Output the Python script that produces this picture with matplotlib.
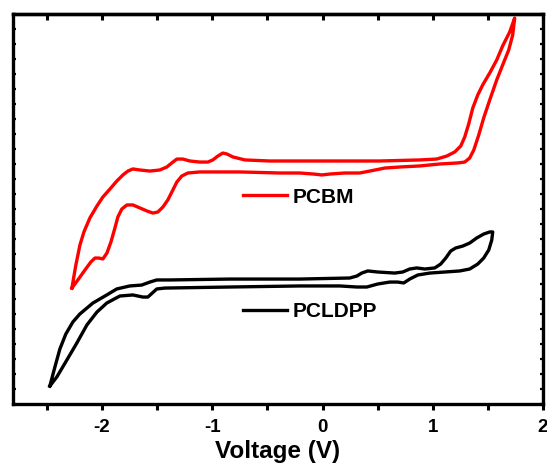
import matplotlib
matplotlib.use('Agg')
import matplotlib.pyplot as plt
import numpy as np

# PCBM cyclic voltammogram (voltage in V, current in arbitrary units)
pcbm_v = [-2.273, -2.237, -2.200, -2.164, -2.110, -2.046, -1.992, -1.928, -1.865, -1.810,
          -1.765, -1.720, -1.656, -1.566, -1.476, -1.412, -1.367, -1.321, -1.267, -1.203,
          -1.113, -1.040, -0.995, -0.949, -0.904, -0.868, -0.813, -0.704, -0.478, -0.024,
          0.519, 0.882, 1.036, 1.127, 1.199, 1.254, 1.290, 1.326, 1.363, 1.408,
          1.453, 1.517, 1.580, 1.634, 1.698, 1.743,
          1.725, 1.689, 1.634, 1.580, 1.517, 1.462, 1.417, 1.372, 1.335, 1.290,
          1.227, 1.063, 0.882, 0.701, 0.565, 0.429, 0.338, 0.202, 0.066, -0.006,
          -0.079, -0.206, -0.387, -0.750, -1.113, -1.221, -1.276, -1.321, -1.357, -1.403,
          -1.448, -1.493, -1.539, -1.593, -1.656, -1.720, -1.774, -1.820, -1.856, -1.883,
          -1.919, -1.955, -1.992, -2.028, -2.064, -2.101, -2.155, -2.219, -2.273]
pcbm_i = [7.73, 9.27, 10.60, 11.47, 12.40, 13.20, 13.80, 14.33, 14.87, 15.27,
          15.53, 15.67, 15.60, 15.53, 15.60, 15.80, 16.07, 16.33, 16.33, 16.20,
          16.13, 16.13, 16.27, 16.53, 16.73, 16.67, 16.47, 16.27, 16.20, 16.20,
          16.20, 16.27, 16.33, 16.53, 16.80, 17.20, 17.80, 18.67, 19.73, 20.60,
          21.27, 22.07, 22.93, 23.87, 24.80, 25.73,
          24.60, 23.60, 22.60, 21.60, 20.27, 19.07, 17.93, 16.93, 16.40, 16.13,
          16.07, 16.00, 15.87, 15.80, 15.73, 15.53, 15.40, 15.40, 15.33, 15.27,
          15.33, 15.40, 15.40, 15.47, 15.47, 15.40, 15.20, 14.80, 14.27, 13.60,
          13.13, 12.80, 12.73, 12.87, 13.07, 13.27, 13.27, 13.00, 12.47, 11.73,
          10.80, 10.07, 9.67, 9.73, 9.73, 9.47, 8.93, 8.27, 7.73]

# PCLDPP cyclic voltammogram
pcldpp_v = [-2.473, -2.427, -2.382, -2.328, -2.264, -2.201, -2.083, -1.957, -1.866, -1.748,
            -1.640, -1.566, -1.503, -1.385, -0.840, -0.206, 0.247, 0.311, 0.356, 0.411,
            0.501, 0.655, 0.728, 0.791, 0.855, 0.928, 1.018, 1.072, 1.118, 1.163,
            1.208, 1.272, 1.335, 1.399, 1.462, 1.517, 1.544,
            1.535, 1.508, 1.462, 1.408, 1.335, 1.245, 1.109, 0.973, 0.864, 0.791,
            0.737, 0.682, 0.610, 0.501, 0.402, 0.311, 0.157, -0.206, -0.840, -1.429,
            -1.503, -1.584, -1.629, -1.720, -1.838, -1.957, -2.046, -2.137, -2.228, -2.319,
            -2.410, -2.473]
pcldpp_i = [1.20, 2.47, 3.67, 4.67, 5.47, 6.00, 6.73, 7.27, 7.67, 7.87,
            7.93, 8.13, 8.27, 8.27, 8.33, 8.33, 8.40, 8.53, 8.73, 8.87,
            8.80, 8.73, 8.80, 9.00, 9.07, 9.00, 9.07, 9.33, 9.73, 10.20,
            10.40, 10.53, 10.73, 11.07, 11.33, 11.47, 11.47,
            10.93, 10.27, 9.73, 9.33, 9.00, 8.87, 8.80, 8.73, 8.60, 8.33,
            8.07, 8.13, 8.13, 8.00, 7.80, 7.80, 7.87, 7.87, 7.80, 7.73,
            7.67, 7.13, 7.13, 7.27, 7.20, 6.73, 6.13, 5.27, 4.07, 2.93,
            1.80, 1.20]

plt.rcParams['font.family'] = 'Liberation Sans'
plt.rcParams['font.weight'] = 'bold'

fig = plt.figure(figsize=(5.47, 4.66), dpi=100)
ax = fig.add_axes([0.0232, 0.133, 0.9695, 0.837])

ax.plot(pcbm_v, pcbm_i, color='#ff0000', lw=2.4, label='PCBM', solid_joinstyle='round')
ax.plot(pcldpp_v, pcldpp_i, color='black', lw=2.4, label='PCLDPP', solid_joinstyle='round')

ax.set_xlim(-2.81, 2.0)
ax.set_ylim(0, 26)

for s in ax.spines.values():
    s.set_linewidth(2.4)

ax.set_xticks([-2, -1, 0, 1, 2])
ax.set_xticklabels(['-2', '-1', '0', '1', '2'])
ax.set_xticks(np.arange(-2.5, 2.0, 1.0), minor=True)
ax.tick_params(axis='x', which='both', direction='out', length=4.5, width=2.2,
               labelsize=13.5, pad=6, top=False)
ax.set_yticks(np.arange(0, 27, 1))
ax.tick_params(axis='y', direction='in', length=2, width=1.6, left=True, right=True,
               labelleft=False)

top = ax.secondary_xaxis('top')
top.set_xticks(np.arange(-2.5, 2.01, 0.5))
top.tick_params(direction='in', length=4.5, width=2.2, labeltop=False)
top.spines['top'].set_linewidth(2.4)

ax.set_xlabel('Voltage (V)', fontsize=17.5, fontweight='bold', labelpad=3)

leg = ax.legend(loc='upper left', bbox_to_anchor=(0.434, 0.555), frameon=False,
                fontsize=15, handlelength=2.1, handletextpad=0.3, labelspacing=4.6,
                borderpad=0, borderaxespad=0)
for t in leg.get_texts():
    t.set_fontweight('bold')

plt.savefig('out.png', dpi=100)
